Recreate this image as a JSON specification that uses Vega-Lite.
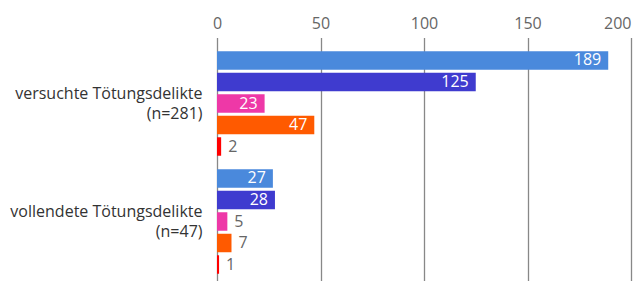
{
  "$schema": "https://vega.github.io/schema/vega-lite/v6.json",
  "autosize": {"type": "none"},
  "padding": {"left": 217, "top": 44.5, "right": 2, "bottom": 1.5},
  "width": 414,
  "height": 236,
  "config": {
    "font": "Open Sans",
    "view": {"stroke": null}
  },
  "data": {
    "values": [
      {"kategorie": "versuchte Tötungsdelikte (n=281)", "serie": "Serie 1", "wert": 189},
      {"kategorie": "versuchte Tötungsdelikte (n=281)", "serie": "Serie 2", "wert": 125},
      {"kategorie": "versuchte Tötungsdelikte (n=281)", "serie": "Serie 3", "wert": 23},
      {"kategorie": "versuchte Tötungsdelikte (n=281)", "serie": "Serie 4", "wert": 47},
      {"kategorie": "versuchte Tötungsdelikte (n=281)", "serie": "Serie 5", "wert": 2},
      {"kategorie": "vollendete Tötungsdelikte (n=47)", "serie": "Serie 1", "wert": 27},
      {"kategorie": "vollendete Tötungsdelikte (n=47)", "serie": "Serie 2", "wert": 28},
      {"kategorie": "vollendete Tötungsdelikte (n=47)", "serie": "Serie 3", "wert": 5},
      {"kategorie": "vollendete Tötungsdelikte (n=47)", "serie": "Serie 4", "wert": 7},
      {"kategorie": "vollendete Tötungsdelikte (n=47)", "serie": "Serie 5", "wert": 1}
    ]
  },
  "encoding": {
    "y": {
      "field": "kategorie",
      "type": "nominal",
      "sort": null,
      "scale": {"paddingInner": 0, "paddingOuter": 0},
      "axis": {
        "title": null,
        "domain": false,
        "ticks": false,
        "tickSize": 0,
        "labelPadding": 15,
        "labelOffset": -10,
        "labelFontSize": 16,
        "labelColor": "#333333",
        "labelLineHeight": 20,
        "labelLimit": 300,
        "labelExpr": "split(replace(datum.label, ' (', '|('), '|')"
      }
    },
    "yOffset": {
      "field": "serie",
      "type": "nominal",
      "sort": null,
      "scale": {"paddingInner": 0.14, "paddingOuter": 0.314}
    },
    "x": {
      "field": "wert",
      "type": "quantitative",
      "scale": {"domain": [0, 200], "nice": false},
      "axis": {
        "orient": "top",
        "title": null,
        "domain": false,
        "values": [0, 50, 100, 150, 200],
        "tickSize": 7,
        "tickColor": "#888888",
        "tickWidth": 1.3,
        "gridColor": "#888888",
        "gridWidth": 1.3,
        "gridOpacity": 1,
        "labelPadding": 6,
        "labelFontSize": 16,
        "labelColor": "#666666",
        "labelAlign": {"condition": {"test": "datum.value == 200", "value": "right"}, "value": "center"}
      }
    }
  },
  "layer": [
    {
      "mark": {"type": "bar"},
      "encoding": {
        "color": {
          "field": "serie",
          "type": "nominal",
          "sort": null,
          "legend": null,
          "scale": {
            "domain": ["Serie 1", "Serie 2", "Serie 3", "Serie 4", "Serie 5"],
            "range": ["#4a89dc", "#3f3bcf", "#ee38a7", "#ff5a00", "#ff0000"]
          }
        }
      }
    },
    {
      "transform": [{"filter": "datum.wert >= 10"}],
      "mark": {"type": "text", "align": "right", "baseline": "middle", "dx": -7, "fontSize": 16, "color": "#ffffff"},
      "encoding": {"text": {"field": "wert", "type": "quantitative"}}
    },
    {
      "transform": [{"filter": "datum.wert < 10"}],
      "mark": {"type": "text", "align": "left", "baseline": "middle", "dx": 7, "fontSize": 16, "color": "#666666"},
      "encoding": {"text": {"field": "wert", "type": "quantitative"}}
    }
  ]
}
